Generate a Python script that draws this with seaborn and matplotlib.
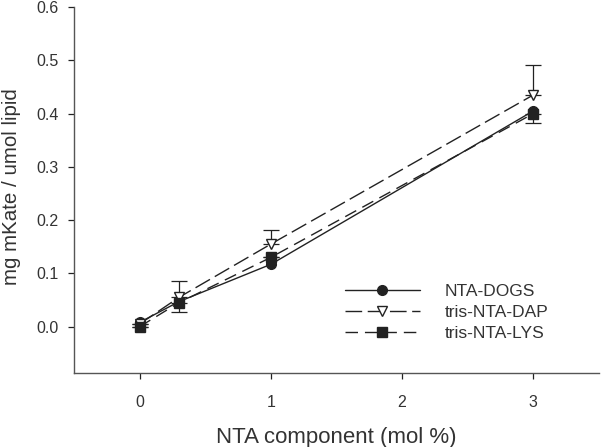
import matplotlib
matplotlib.use("Agg")
import matplotlib.pyplot as plt
import seaborn as sns
import pandas as pd

x_vals = [0, 0.3, 1, 3]
dogs = [0.008, 0.047, 0.117, 0.405]
dap = [0.005, 0.055, 0.155, 0.435]
lys = [0.000, 0.045, 0.130, 0.400]
dap_err_up = [0.0, 0.031, 0.026, 0.057]
lys_err_down = [0.0, 0.018, 0.0, 0.018]
series_names = ["NTA-DOGS", "tris-NTA-DAP", "tris-NTA-LYS"]
x_ticks = [0, 1, 2, 3]
y_ticks = [0.0, 0.1, 0.2, 0.3, 0.4, 0.5, 0.6]

sns.set_theme(style="ticks")
plt.rcParams["font.family"] = ["Liberation Sans", "DejaVu Sans"]

df = pd.DataFrame({
    "x": x_vals * 3,
    "y": dogs + dap + lys,
    "series": [series_names[0]] * 4 + [series_names[1]] * 4 + [series_names[2]] * 4,
})

fig = plt.figure(figsize=(6.01, 4.47), dpi=100)
ax = fig.add_axes([74 / 601, 1 - 373 / 447, 525 / 601, 366 / 447])

col = "#222222"
txt = "#333333"
# error bars
ax.errorbar(x_vals, dap, yerr=[[0] * 4, dap_err_up], fmt="none", ecolor=col,
            elinewidth=0.9, capsize=6, capthick=0.9, zorder=1)
ax.errorbar(x_vals, lys, yerr=[lys_err_down, [0] * 4], fmt="none", ecolor=col,
            elinewidth=0.9, capsize=6, capthick=0.9, zorder=1)

styles = {
    series_names[0]: dict(ls="-", marker="o", mfc=col),
    series_names[1]: dict(ls=(0, (12, 4)), marker="v", mfc="white"),
    series_names[2]: dict(ls=(0, (9, 5)), marker="s", mfc=col),
}
for name in series_names:
    sub = df[df["series"] == name]
    st = styles[name]
    sns.lineplot(data=sub, x="x", y="y", ax=ax, color=col, lw=1.0,
                 linestyle=st["ls"], marker=st["marker"], markersize=7,
                 markerfacecolor=st["mfc"], markeredgecolor=col,
                 markeredgewidth=1.0, label=name, zorder=3)

ax.set_xlim(-0.5, 3.5)
ax.set_ylim(-0.087, 0.6)
ax.set_xticks(x_ticks)
ax.set_yticks(y_ticks)
ax.set_yticklabels([f"{v:.1f}" for v in y_ticks])
ax.set_xticklabels([str(v) for v in x_ticks])
ax.tick_params(axis="both", direction="out", length=4, width=0.9, colors=col,
               labelsize=11.5, labelcolor=txt)
ax.tick_params(axis="x", pad=11.5)
ax.tick_params(axis="y", pad=7)
for s in ["top", "right"]:
    ax.spines[s].set_visible(False)
for s in ["left", "bottom"]:
    ax.spines[s].set_color("#555555")
    ax.spines[s].set_linewidth(1.0)

ax.set_xlabel("NTA component (mol %)", fontsize=16, color=txt, va="baseline")
ax.set_ylabel("mg mKate / umol lipid", fontsize=14.8, color=txt, va="center")
ax.xaxis.set_label_coords(0.5, (373 - 443) / 366)
ax.yaxis.set_label_coords((12 - 74) / 525, (373 - 187) / 366)

leg = ax.legend(loc="center left", bbox_to_anchor=((345 - 74) / 525, (373 - 312.5) / 366),
                frameon=False, handlelength=4.3, fontsize=12.5, labelspacing=0.35,
                handletextpad=1.45, borderaxespad=0.0, borderpad=0.0)
for t in leg.get_texts():
    t.set_color(txt)

fig.savefig("out.png", dpi=100)
